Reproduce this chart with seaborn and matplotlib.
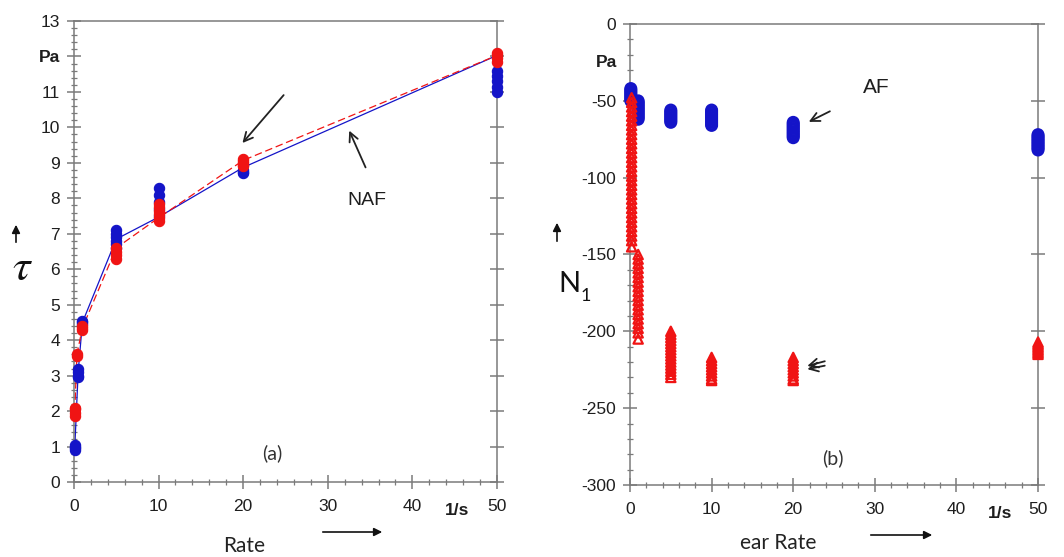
import matplotlib
matplotlib.use("Agg")
import matplotlib.pyplot as plt
import pandas as pd
import seaborn as sns
from matplotlib.ticker import AutoMinorLocator

# ---------------- data: panel (a) shear stress tau [Pa] vs shear rate [1/s]
a_blue_rates = [0.1, 0.5, 1, 5, 10, 20, 50]
a_blue_pts = [
    [0.9, 0.95, 1.0, 1.05],
    [2.95, 3.0, 3.1, 3.2],
    [4.45, 4.5, 4.55],
    [6.6, 6.7, 6.8, 6.9, 7.0, 7.1],
    [7.5, 7.7, 7.9, 8.1, 8.3],
    [8.7, 8.75, 8.8],
    [11.0, 11.15, 11.3, 11.45, 11.6],
]
a_blue_line = [1.0, 3.1, 4.5, 6.85, 7.47, 8.87, 12.03]

a_red_rates = [0.1, 0.35, 1, 5, 10, 20, 50]
a_red_pts = [
    [1.85, 1.95, 2.05, 2.1],
    [3.55, 3.6],
    [4.3, 4.35, 4.4],
    [6.3, 6.4, 6.5, 6.6],
    [7.35, 7.45, 7.55, 7.65, 7.75, 7.85],
    [8.9, 8.95, 9.0, 9.05, 9.1],
    [11.85, 11.95, 12.05, 12.1],
]
a_red_line = [2.0, 3.6, 4.35, 6.6, 7.45, 9.07, 12.03]

a_yticks = [0, 1, 2, 3, 4, 5, 6, 7, 8, 9, 10, 11, 12, 13]
a_yticklabels = ["0", "1", "2", "3", "4", "5", "6", "7", "8", "9", "10", "11", "Pa", "13"]
x_ticks = [0, 10, 20, 30, 40, 50]
x_ticklabels = ["0", "10", "20", "30", "40", "50"]

# ---------------- data: panel (b) first normal stress difference N1 [Pa]
b_blue_rates = [0.1, 1, 5, 10, 20, 50]
b_blue_pts = [
    [-42, -43, -44, -45, -46, -47, -48, -49, -50],
    [-50, -51, -52, -53, -54, -55, -56, -57, -58, -59, -60, -61, -62],
    [-56, -57, -58, -59, -60, -61, -62, -63, -64],
    [-56, -57, -58, -59, -60, -61, -62, -63, -64, -65, -66],
    [-64, -65, -66, -67, -68, -69, -70, -71, -72, -73, -74],
    [-72, -73, -74, -75, -76, -77, -78, -79, -80, -81, -82],
]
b_red_rates = [0.2, 1, 5, 10, 20, 50]
b_red_pts = [
    [-48, -51, -54, -57, -60, -63, -66, -69, -72, -75, -78, -81, -84, -87,
     -90, -93, -96, -99, -102, -105, -108, -111, -114, -117, -120, -123,
     -126, -129, -132, -135, -138, -141, -145],
    [-150, -153, -156, -159, -162, -165, -168, -171, -174, -177, -180,
     -183, -186, -189, -192, -195, -198, -201, -205],
    [-200, -202, -204, -206, -208, -210, -212, -214, -216, -218, -220,
     -222, -224, -226, -228, -230],
    [-217, -219, -221, -223, -225, -227, -229, -231, -232],
    [-217, -219, -221, -223, -225, -227, -229, -231, -232],
    [-207, -208, -209, -210, -211, -212, -213, -214, -215],
]
b_yticks = [0, -50, -100, -150, -200, -250, -300]
b_yticklabels = ["0", "-50", "-100", "-150", "-200", "-250", "-300"]


def cluster_frame(rates, pts):
    rows = []
    for r, vals in zip(rates, pts):
        for v in vals:
            rows.append((r, v))
    return pd.DataFrame(rows, columns=["rate", "value"])


BLUE = "#1414c8"
RED = "#f01414"
AXC = "#7a7a7a"
TXT = "#1e1e1e"

sns.set_theme(style="ticks")
plt.rcParams["font.family"] = ["Liberation Sans", "DejaVu Sans"]

fig = plt.figure(figsize=(10.64, 5.57), dpi=100)
axA = fig.add_axes([0.0695, 0.1346, 0.3976, 0.8277])
axB = fig.add_axes([0.5921, 0.1293, 0.3835, 0.8276])

# ---------- panel (a)
line_b = pd.DataFrame({"rate": a_blue_rates, "value": a_blue_line})
line_r = pd.DataFrame({"rate": a_red_rates, "value": a_red_line})
sns.lineplot(data=line_b, x="rate", y="value", color=BLUE, lw=0.9,
             estimator=None, sort=False, ax=axA, zorder=2)
sns.lineplot(data=line_r, x="rate", y="value", color=RED, lw=0.9,
             estimator=None, sort=False, ax=axA, zorder=2, dashes=False,
             linestyle=(0, (6, 3)))
sns.scatterplot(data=cluster_frame(a_blue_rates, a_blue_pts), x="rate", y="value",
                color=BLUE, edgecolor=BLUE, s=55, marker="o", linewidth=0.8,
                ax=axA, zorder=3, clip_on=False, legend=False)
sns.scatterplot(data=cluster_frame(a_red_rates, a_red_pts), x="rate", y="value",
                color=RED, edgecolor=RED, s=55, marker="o", linewidth=0.8,
                ax=axA, zorder=4, clip_on=False, legend=False)

axA.set_xlim(0, 50)
axA.set_ylim(0, 13)
axA.set_yticks(a_yticks)
axA.set_yticklabels(a_yticklabels)
axA.set_xticks(x_ticks)
axA.set_xticklabels(x_ticklabels)
for lab in axA.get_yticklabels():
    if lab.get_text() == "Pa":
        lab.set_fontweight("bold")
axA.text(45.3, -0.045, "1/s", transform=axA.get_xaxis_transform(),
         ha="center", va="top", fontsize=12.5, fontweight="bold", color=TXT)

# ---------- panel (b)
sns.scatterplot(data=cluster_frame(b_blue_rates, b_blue_pts), x="rate", y="value",
                facecolors="none", edgecolor=BLUE, s=60, marker="o", linewidth=1.6,
                ax=axB, zorder=3, clip_on=False, legend=False)
sns.scatterplot(data=cluster_frame(b_red_rates, b_red_pts), x="rate", y="value",
                facecolors="none", edgecolor=RED, s=45, marker="^", linewidth=1.6,
                ax=axB, zorder=4, clip_on=False, legend=False)
axB.set_xlim(0, 50)
axB.set_ylim(-300, 0)
axB.set_yticks(b_yticks)
axB.set_yticklabels(b_yticklabels)
axB.set_xticks(x_ticks)
axB.set_xticklabels(x_ticklabels)
axB.text(45.3, -0.045, "1/s", transform=axB.get_xaxis_transform(),
         ha="center", va="top", fontsize=12.5, fontweight="bold", color=TXT)
axB.text(-1.6, -25, "Pa", ha="right", va="center", fontsize=12.5,
         fontweight="bold", color=TXT, clip_on=False)

for ax in (axA, axB):
    ax.set_xlabel("")
    ax.set_ylabel("")
    for sp in ax.spines.values():
        sp.set_visible(True)
        sp.set_color(AXC)
        sp.set_linewidth(1.1)
    ax.xaxis.set_minor_locator(AutoMinorLocator(5))
    ax.yaxis.set_minor_locator(AutoMinorLocator(5))
    ax.tick_params(which="major", direction="inout", length=10, width=1.1,
                   color=AXC, labelsize=12.5, labelcolor=TXT, right=True)
    ax.tick_params(which="minor", direction="inout", length=4, width=0.9,
                   color=AXC)
    ax.tick_params(axis="y", which="minor", left=True, right=False)
    ax.tick_params(axis="x", which="major", pad=7)
    ax.tick_params(axis="y", which="major", pad=5)
    ax.set_facecolor("white")

# ---------- annotations panel (a)
arrow = dict(arrowstyle="->", color="#222222", lw=1.3, mutation_scale=16)
axA.annotate("", xy=(19.7, 9.5), xytext=(25.0, 10.97), arrowprops=arrow)
axA.annotate("", xy=(32.4, 9.98), xytext=(34.6, 8.8), arrowprops=arrow)
axA.text(34.6, 7.95, "NAF", ha="center", va="center", fontsize=14, color=TXT)
axA.text(23.4, 0.82, "(a)", ha="center", va="center", fontsize=14,
         color="#333333", family=["Lato", "DejaVu Sans"])

# ---------- annotations panel (b)
axB.annotate("", xy=(21.6, -64.5), xytext=(24.8, -56), arrowprops=arrow)
axB.annotate("", xy=(21.4, -223), xytext=(24.2, -219), arrowprops=arrow)
axB.annotate("", xy=(21.4, -225), xytext=(24.2, -222), arrowprops=arrow)
axB.text(28.6, -41, "AF", ha="left", va="center", fontsize=15, color=TXT)
axB.text(24.9, -282.5, "(b)", ha="center", va="center", fontsize=14,
         color="#333333", family=["Lato", "DejaVu Sans"])

# ---------- axis labels and direction arrows (figure pixels -> fractions)
W, H = 1064.0, 557.0


def fx(px):
    return px / W


def fy(py):
    return 1 - py / H


farrow = dict(arrowstyle="-|>", color="#111111", lw=1.2, mutation_scale=12)
fig.text(fx(22), fy(268), r"$\tau$", fontsize=32, ha="center", va="center",
         color="#111111", math_fontfamily="stix")
fig.add_artist(matplotlib.patches.FancyArrowPatch(
    (fx(16), fy(245)), (fx(16), fy(222)), transform=fig.transFigure, **farrow))
fig.text(fx(558), fy(284), "N", fontsize=21, ha="left", va="center",
         color="#111111", family=["Lato", "DejaVu Sans"])
fig.text(fx(581), fy(296), "1", fontsize=13, ha="left", va="center",
         color="#111111", family=["Lato", "DejaVu Sans"])
fig.add_artist(matplotlib.patches.FancyArrowPatch(
    (fx(557), fy(244)), (fx(557), fy(220)), transform=fig.transFigure, **farrow))

fig.text(fx(244), fy(546), "Rate", fontsize=15, ha="center", va="center",
         color="#222222", family=["Lato", "DejaVu Sans"])
fig.add_artist(matplotlib.patches.FancyArrowPatch(
    (fx(320), fy(532)), (fx(385), fy(532)), transform=fig.transFigure, **farrow))
fig.text(fx(778), fy(543), "ear Rate", fontsize=15, ha="center", va="center",
         color="#222222", family=["Lato", "DejaVu Sans"])
fig.add_artist(matplotlib.patches.FancyArrowPatch(
    (fx(868), fy(535)), (fx(935), fy(535)), transform=fig.transFigure, **farrow))

fig.savefig("out.png", dpi=100, facecolor="white")
